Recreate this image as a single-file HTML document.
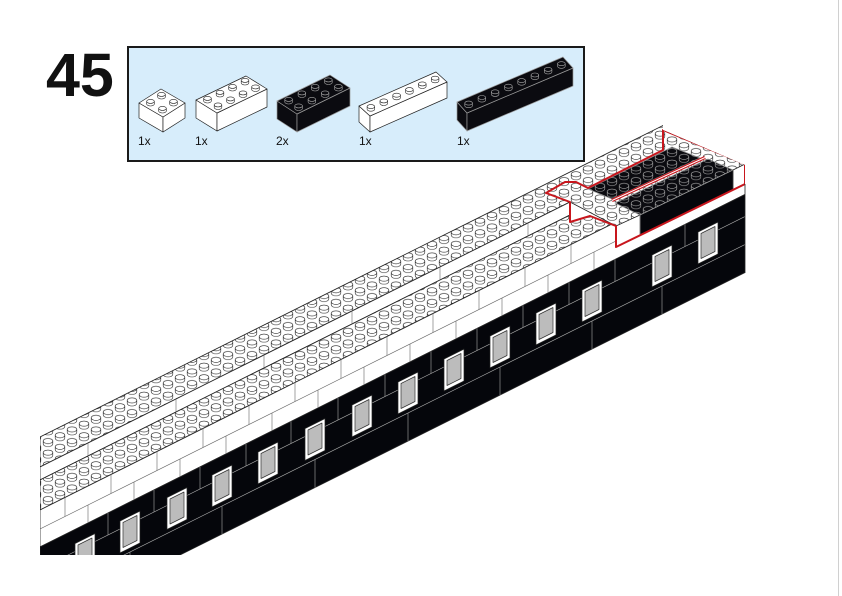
<!DOCTYPE html>
<html><head><meta charset="utf-8"><style>
html,body{margin:0;padding:0;background:#fff;}
svg{display:block;font-family:"Liberation Sans",sans-serif;}
</style></head><body>
<svg width="842" height="596" viewBox="0 0 842 596" xmlns="http://www.w3.org/2000/svg">
<defs>
<g id="st"><path d="M-4.8 0 a4.8 2.6 0 0 0 9.6 0 v-3 h-9.6z" fill="#fff" stroke="#222" stroke-width=".6"/><ellipse cy="-3" rx="4.8" ry="2.6" fill="#fff" stroke="#222" stroke-width=".6"/></g>
<g id="sb"><path d="M-4.8 0 a4.8 2.6 0 0 0 9.6 0 v-3 h-9.6z" fill="#0b0b10" stroke="#aaa" stroke-width=".6"/><ellipse cy="-3" rx="4.8" ry="2.6" fill="#0b0b10" stroke="#aaa" stroke-width=".6"/></g>
<g id="sw2"><path d="M-3.8 0 a3.8 2 0 0 0 7.6 0 v-2.6 h-7.6z" fill="#fff" stroke="#222" stroke-width=".6"/><ellipse cy="-2.6" rx="3.8" ry="2" fill="#fff" stroke="#222" stroke-width=".6"/></g>
<g id="sb2"><path d="M-3.8 0 a3.8 2 0 0 0 7.6 0 v-2.6 h-7.6z" fill="#0b0b10" stroke="#aaa" stroke-width=".6"/><ellipse cy="-2.6" rx="3.8" ry="2" fill="#0b0b10" stroke="#aaa" stroke-width=".6"/></g>
<pattern id="pw" patternUnits="userSpaceOnUse" width="24" height="11.6">
<rect width="24" height="11.6" fill="#fff"/>
<use href="#st" x="12" y="-2.6"/><use href="#st" x="0" y="3.2"/><use href="#st" x="24" y="3.2"/><use href="#st" x="12" y="9"/><use href="#st" x="0" y="14.8"/><use href="#st" x="24" y="14.8"/>
</pattern>
<pattern id="pb" patternUnits="userSpaceOnUse" width="24" height="11.6">
<rect width="24" height="11.6" fill="#0b0b10"/>
<use href="#sb" x="12" y="-2.6"/><use href="#sb" x="0" y="3.2"/><use href="#sb" x="24" y="3.2"/><use href="#sb" x="12" y="9"/><use href="#sb" x="0" y="14.8"/><use href="#sb" x="24" y="14.8"/>
</pattern>
<g id="win"><polygon points="-10,19 10,9 10,41 -10,51" fill="#fff" stroke="#222" stroke-width=".7"/><polygon points="-7,20.5 7,13.5 7,38.5 -7,45.5" fill="#bcbcbc" stroke="#333" stroke-width=".7"/></g>
<clipPath id="mc"><polygon points="40,0 663,0 663,130 745,165 745,555 40,555"/></clipPath>
</defs>

<line x1="838.5" y1="0" x2="838.5" y2="596" stroke="#d0d0d0" stroke-width="1"/>

<text x="46" y="96" font-size="61" font-weight="bold" fill="#111">45</text>

<!-- parts box -->
<rect x="128" y="47" width="456" height="114" fill="#d7edfb" stroke="#1a1a1a" stroke-width="2"/>
<g stroke="#222" stroke-width=".7" stroke-linejoin="round">
<polygon points="163,117 139,103 139,118 163,132" fill="#fff"/>
<polygon points="163,117 185,103 185,118 163,132" fill="#fff"/>
<polygon points="163,117 139,103 161,89 185,103" fill="#fff"/>
<polygon points="217,113 196,100 196,118 217,131" fill="#fff"/>
<polygon points="217,113 267,89 267,107 217,131" fill="#fff"/>
<polygon points="217,113 196,100 246,76 267,89" fill="#fff"/>
<polygon points="297,114 277,101 277,119 297,132" fill="#0b0b10" stroke="#999"/>
<polygon points="297,114 350,88 350,106 297,132" fill="#0b0b10" stroke="#999"/>
<polygon points="297,114 277,101 330,75 350,88" fill="#0b0b10" stroke="#999"/>
<polygon points="370,116 359,106 359,122 370,132" fill="#fff"/>
<polygon points="370,116 447,82 447,98 370,132" fill="#fff"/>
<polygon points="370,116 359,106 436,72 447,82" fill="#fff"/>
<polygon points="467,113 457,102 457,120 467,131" fill="#0b0b10" stroke="#999"/>
<polygon points="467,113 573,68 573,86 467,131" fill="#0b0b10" stroke="#999"/>
<polygon points="467,113 457,102 563,57 573,68" fill="#0b0b10" stroke="#999"/>
</g>
<use href="#sw2" x="161.5" y="97"/><use href="#sw2" x="150.5" y="104"/><use href="#sw2" x="173.5" y="104"/><use href="#sw2" x="162.5" y="111"/>
<use href="#sw2" x="245" y="83"/><use href="#sw2" x="232.5" y="89"/><use href="#sw2" x="255.5" y="89.5"/><use href="#sw2" x="220" y="95"/><use href="#sw2" x="243" y="95.5"/><use href="#sw2" x="207.5" y="101"/><use href="#sw2" x="230.5" y="101.5"/><use href="#sw2" x="218" y="107.5"/>
<use href="#sb2" x="328.4" y="82.5"/><use href="#sb2" x="315.1" y="89"/><use href="#sb2" x="338.4" y="89"/><use href="#sb2" x="301.9" y="95.5"/><use href="#sb2" x="325.1" y="95.5"/><use href="#sb2" x="288.6" y="102"/><use href="#sb2" x="311.9" y="102"/><use href="#sb2" x="298.6" y="108.5"/>
<use href="#sw2" x="435.1" y="80.8"/><use href="#sw2" x="422.3" y="86.5"/><use href="#sw2" x="409.4" y="92.2"/><use href="#sw2" x="396.6" y="97.8"/><use href="#sw2" x="383.8" y="103.5"/><use href="#sw2" x="370.9" y="109.2"/>
<use href="#sb2" x="561.4" y="66.3"/><use href="#sb2" x="548.1" y="72"/><use href="#sb2" x="534.9" y="77.6"/><use href="#sb2" x="521.6" y="83.2"/><use href="#sb2" x="508.4" y="88.8"/><use href="#sb2" x="495.1" y="94.4"/><use href="#sb2" x="481.9" y="100.1"/><use href="#sb2" x="468.6" y="105.7"/>
<g font-size="12" fill="#111">
<text x="138" y="145">1x</text><text x="195" y="145">1x</text><text x="276" y="145">2x</text><text x="359" y="145">1x</text><text x="457" y="145">1x</text>
</g>

<!-- main model -->
<g clip-path="url(#mc)" stroke="#222" stroke-width=".8" stroke-linejoin="round">
<polygon points="40,437 760,77 760,107 40,467" fill="url(#pw)"/>
<polygon points="40,467 760,107 760,120 40,480" fill="#fff"/>
<polygon points="40,480 760,120 760,150 40,510" fill="url(#pw)"/>
<polygon points="40,510 760,150 760,187 40,547" fill="#fff"/>
<polygon points="40,547 760,187 760,265 40,625" fill="#05060b"/>
<line x1="40" y1="529" x2="760" y2="169" stroke="#666" stroke-width=".6"/>
<path d="M65 497.5v19 M111 474.5v19 M157 451.5v19 M203 428.5v19 M249 405.5v19 M295 382.5v19 M341 359.5v19 M387 336.5v19 M433 313.5v19 M479 290.5v19 M525 267.5v19 M571 244.5v19" stroke="#666" stroke-width=".6"/>
<path d="M88 505v18 M134 482v18 M180 459v18 M226 436v18 M272 413v18 M318 390v18 M364 367v18 M410 344v18 M456 321v18 M502 298v18 M548 275v18 M594 252v18" stroke="#666" stroke-width=".6"/>
<path d="M88 443v13 M176 399v13 M264 355v13 M352 311v13 M440 267v13 M528 223v13" stroke="#666" stroke-width=".6"/>
<path d="M40 569 L760 209 M40 597 L760 237" stroke="#aaa" stroke-width=".6"/>
<path d="M108 513v22 M154 490v22 M200 467v22 M246 444v22 M291 421.5v22 M338 398v22 M385 374.5v22 M431 351.5v22 M477 328.5v22 M523 305.5v22 M569 282.5v22 M615 259.5v22 M685 224.5v22 M130 552v28 M222 506v28 M315 459.5v28 M408 413v28 M500 367v28 M592 321v28 M662 286v28" stroke="#aaa" stroke-width=".6"/>
<g stroke="none">
<use href="#win" x="85" y="524.5"/><use href="#win" x="130" y="502"/><use href="#win" x="177" y="478.5"/><use href="#win" x="222" y="456"/><use href="#win" x="268" y="433"/><use href="#win" x="315" y="409.5"/><use href="#win" x="362" y="386"/><use href="#win" x="408" y="363"/><use href="#win" x="454" y="340"/><use href="#win" x="500" y="317"/><use href="#win" x="546" y="294"/><use href="#win" x="592" y="271"/><use href="#win" x="662" y="236"/><use href="#win" x="708" y="213"/>
</g>
<!-- raised / new bricks -->
<polygon points="546,193 565,182 576,182 588,188 663,150 663,130 745,164 745,184 616,247 616,226 590,216 570,222 570,202" fill="url(#pw)"/>
<polygon points="570,202 570,222 590,216 616,226 616,247 640,235 640,215 616,226" fill="#fff"/>
<polygon points="615,203 708,159 733,170 640,215" fill="url(#pb)" stroke="#999"/>
<polygon points="640,215 733,170 733,190 640,235" fill="#05060b" stroke="#999"/>
<polygon points="733,170 745,164 745,184 733,190" fill="#fff"/>
<polygon points="588,189 672,147 700,158 612,199" fill="url(#pb)" stroke="#999"/>
<line x1="612" y1="200.5" x2="705" y2="157.5" stroke="#c8161d" stroke-width="3.2"/>
<line x1="612" y1="200.5" x2="705" y2="157.5" stroke="#fff" stroke-width="1"/>
<polygon points="546,193 565,182 576,182 588,188 663,150 663,130 745,164 745,184 616,247 616,226 590,216 570,222 570,202" fill="none" stroke="#c8161d" stroke-width="2"/>
</g>
<line x1="745" y1="184" x2="745" y2="273" stroke="#222" stroke-width=".8"/>
</svg>
</body></html>
